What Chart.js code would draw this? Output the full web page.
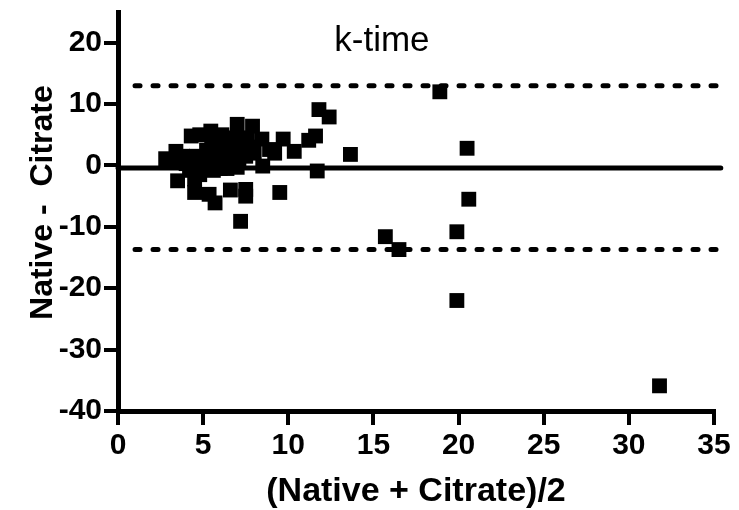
<!DOCTYPE html>
<html>
<head>
<meta charset="utf-8">
<script src="https://cdn.jsdelivr.net/npm/chart.js@4.4.1/dist/chart.umd.min.js"></script>
<style>
  html, body { margin: 0; padding: 0; background: #fff; }
  #wrap { width: 739px; height: 510px; }
</style>
</head>
<body>
<div id="wrap"><canvas id="kTime" width="739" height="510"></canvas></div>
<script>
// mean of native & citrate (x) vs difference (y)
const meanVals = [
  2.8, 3.4, 3.5, 3.3, 3.8, 4.0, 4.3, 4.8, 5.45, 4.2,
  4.5, 5.35, 5.7, 4.6, 5.0, 5.2, 5.6, 5.8, 6.0, 6.2,
  6.3, 6.5, 6.6, 6.8, 6.8, 7.0, 7.0, 7.1, 7.2, 7.3,
  7.5, 7.5, 7.5, 7.6, 7.9, 8.0, 8.45, 8.5, 8.9, 9.2,
  9.5, 9.7, 10.35, 11.2, 11.6, 11.7, 11.8, 12.4, 13.65, 15.7,
  16.5, 18.9, 19.9, 19.9, 20.5, 20.6, 31.8, 4.5, 4.8, 6.1,
  6.4, 7.0, 5.5, 6.0, 6.9, 7.7
];
const diffVals = [
  1.1, 2.3, -2.5, 0.5, 1.5, 0.3, 4.8, 5.0, 5.6, -0.8,
  -4.4, -4.7, -6.1, 1.5, 0.8, 2.5, -0.8, 1.0, 3.0, 1.8,
  0.2, 3.5, -4.0, 4.5, 1.5, 6.7, 2.5, 0.5, -9.1, 3.5,
  -3.9, -5.0, 1.5, 4.5, 6.4, 2.0, 4.3, -0.1, 2.6, 2.0,
  -4.4, 4.3, 2.3, 4.1, 4.8, -0.9, 9.1, 7.9, 1.8, -11.6,
  -13.7, 12.0, -22.0, -10.8, 2.8, -5.5, -35.9, -2.2, -1.5, 5.0,
  -0.5, -0.3, 3.5, -0.5, 3.0, 3.0
];
const xTicks = [0, 5, 10, 15, 20, 25, 30, 35];
const yTicks = [-40, -30, -20, -10, 0, 10, 20];
const biasY = -0.4;
const upperY = 13.0;
const lowerY = -13.7;
const lineX = [0, 35.4];
const dotX = [1.0, 35.4];

const points = meanVals.map((m, i) => ({x: m, y: diffVals[i]}));

// 'k-time' label sits inside the plot area
const innerTitle = {
  id: 'innerTitle',
  afterDatasetsDraw(chart) {
    const {ctx, scales} = chart;
    ctx.save();
    ctx.font = '35px "Liberation Sans", Arial, sans-serif';
    ctx.fillStyle = '#000';
    ctx.textAlign = 'center';
    ctx.textBaseline = 'alphabetic';
    ctx.fillText('k-time', scales.x.getPixelForValue(15.5), 51);
    ctx.restore();
  }
};

const tickFont = {family: '"Liberation Sans", Arial, sans-serif', size: 30, weight: 'bold'};
const titleFont = {family: '"Liberation Sans", Arial, sans-serif', size: 34, weight: 'bold'};

new Chart(document.getElementById('kTime'), {
  type: 'scatter',
  data: {
    datasets: [
      {
        label: 'bias',
        type: 'line',
        data: lineX.map(x => ({x: x, y: biasY})),
        borderColor: '#000',
        borderWidth: 5,
        borderCapStyle: 'round',
        pointRadius: 0,
        clip: false,
      },
      {
        label: 'upper',
        type: 'line',
        data: dotX.map(x => ({x: x, y: upperY})),
        borderColor: '#000',
        borderWidth: 5,
        borderDash: [5, 13],
        borderCapStyle: 'round',
        pointRadius: 0,
        clip: false,
      },
      {
        label: 'lower',
        type: 'line',
        data: dotX.map(x => ({x: x, y: lowerY})),
        borderColor: '#000',
        borderWidth: 5,
        borderDash: [5, 13],
        borderCapStyle: 'round',
        pointRadius: 0,
        clip: false,
      },
      {
        label: 'k-time',
        data: points,
        pointStyle: 'rect',
        pointRadius: 10.5,
        pointHoverRadius: 10.5,
        backgroundColor: '#000',
        borderWidth: 0,
        clip: false,
      }
    ]
  },
  options: {
    responsive: false,
    animation: false,
    layout: {padding: {top: 12, right: 25, left: 0, bottom: 0}},
    plugins: {
      legend: {display: false},
      tooltip: {enabled: false},
      title: {display: false},
    },
    scales: {
      x: {
        type: 'linear',
        min: 0,
        max: 35,
        afterBuildTicks: s => { s.ticks = xTicks.map(v => ({value: v})); },
        afterFit: s => { s.height = 99; },
        grid: {drawOnChartArea: false, drawTicks: true, tickLength: 14, color: '#000', lineWidth: 4},
        border: {display: true, color: '#000', width: 5},
        ticks: {color: '#000', font: tickFont, padding: 3, maxRotation: 0},
        title: {display: true, text: '(Native + Citrate)/2', color: '#000', font: titleFont, padding: {top: 0, bottom: -2}},
      },
      y: {
        type: 'linear',
        min: -40,
        max: 25,
        afterBuildTicks: s => { s.ticks = yTicks.map(v => ({value: v})); },
        afterFit: s => { s.width = 118; s.paddingTop = 0; s.paddingBottom = 0; },
        grid: {drawOnChartArea: false, drawTicks: true, tickLength: 14, color: '#000', lineWidth: 4},
        border: {display: true, color: '#000', width: 5},
        ticks: {color: '#000', font: tickFont, padding: 2},
        title: {display: true, text: '\u00a0\u00a0Native -  Citrate', color: '#000', font: {family: '"Liberation Sans", Arial, sans-serif', size: 32, weight: 'bold'}, padding: {top: 24, bottom: 0}},
      }
    }
  },
  plugins: [innerTitle]
});
</script>
</body>
</html>
